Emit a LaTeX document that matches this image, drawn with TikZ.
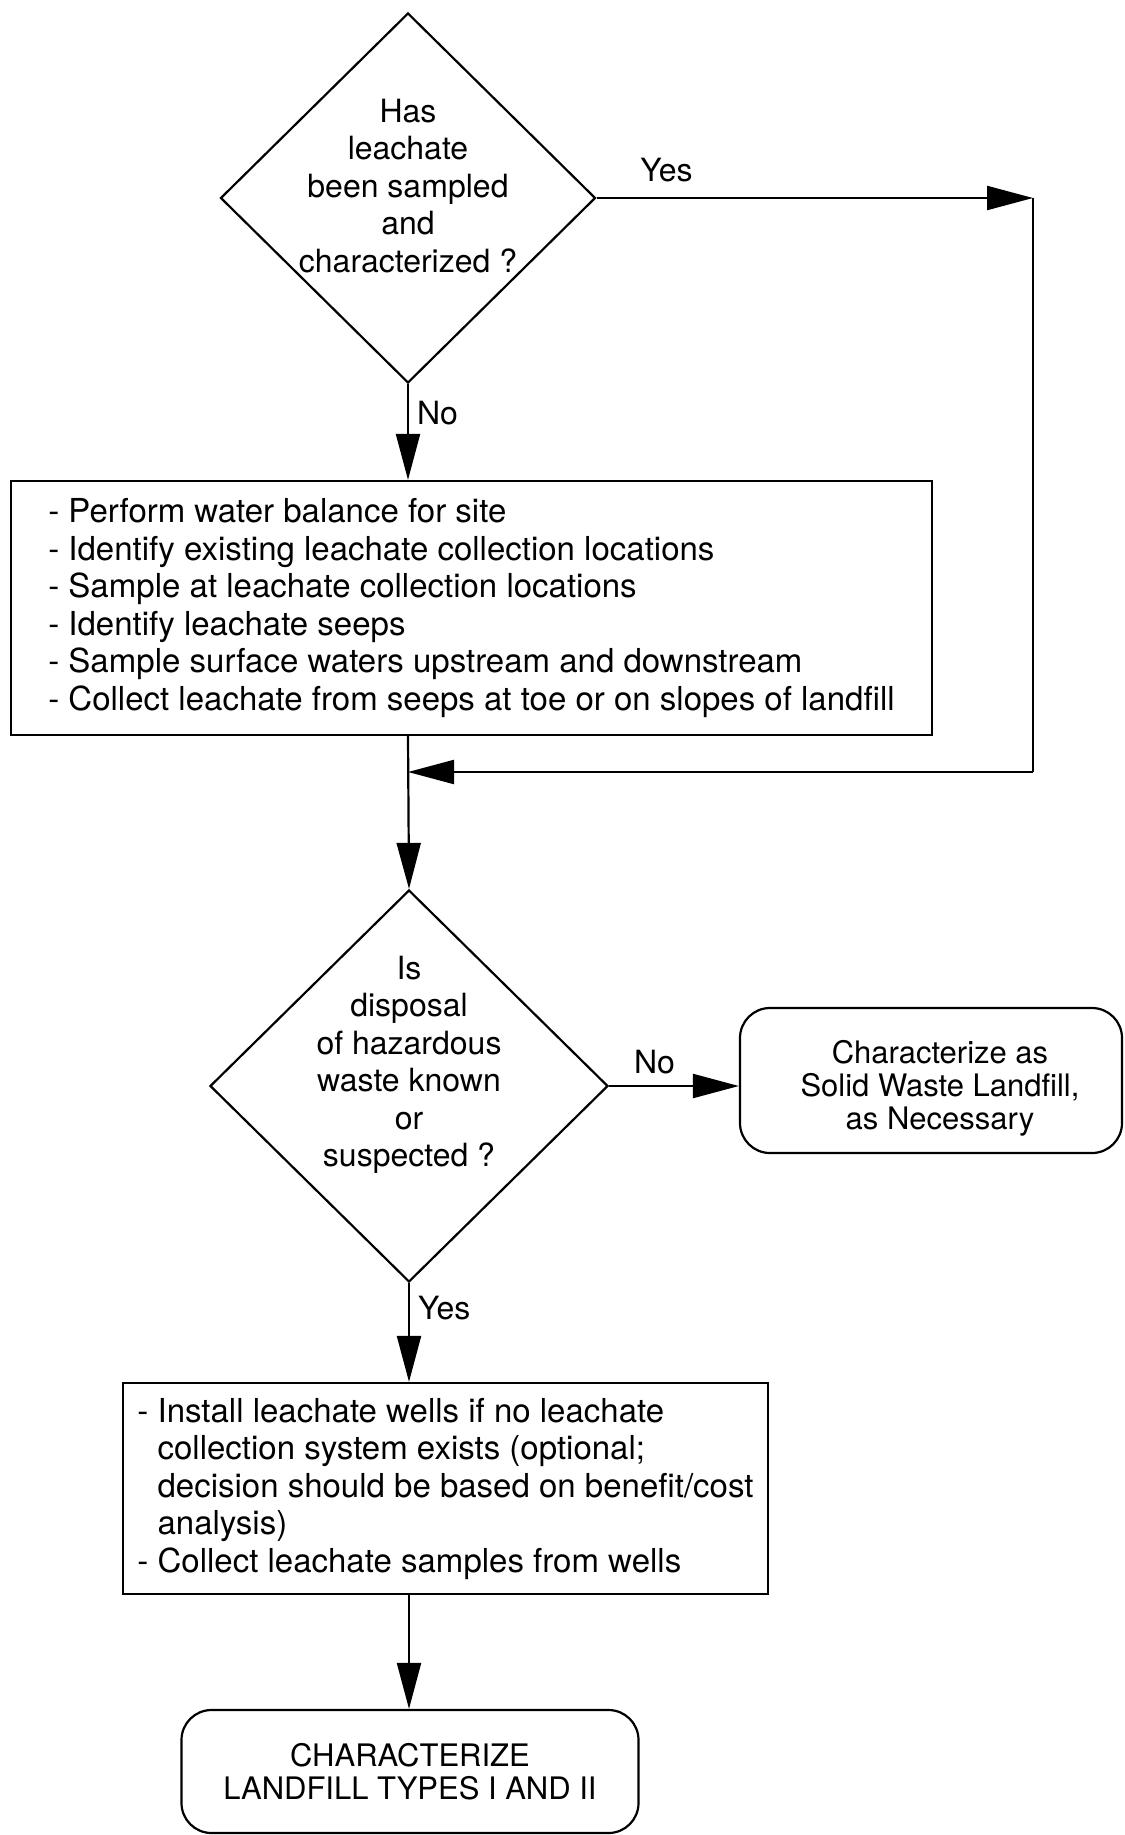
\documentclass[tikz,border=0pt]{standalone}
\usepackage{fontspec}
\setmainfont{TeX Gyre Heros}
\usetikzlibrary{shapes.geometric,arrows.meta}

\tikzset{
    decision/.style={draw, diamond, inner sep=0pt},
    question/.style={align=center, font=\fontsize{32}{37.5}\selectfont},
    process/.style={draw, rectangle, align=left, inner sep=0pt, font=\fontsize{33}{37.5}\selectfont},
    terminal/.style={draw, rectangle, rounded corners=30pt, align=center, inner sep=0pt, font=\fontsize{31}{33}\selectfont},
    answer/.style={inner sep=8pt, font=\fontsize{32}{37.5}\selectfont},
    flow/.style={-{Triangle[length=46pt, width=24pt]}}
}

\begin{document}
\begin{tikzpicture}[x=1pt, y=-1pt, line width=2.2pt]
        \useasboundingbox (0, 0) rectangle (1124, 1835);
        \node[decision, minimum width=375pt, minimum height=370pt] (d1) at (408, 198) {};
        \node[question] (q1) at (408, 186) {Has\\leachate\\been sampled\\and\\characterized ?};
        \node[process, minimum width=921pt, minimum height=254pt] (b1) at (471.5, 608) {- Perform water balance for site\\- Identify existing leachate collection locations\\- Sample at leachate collection locations\\- Identify leachate seeps\\- Sample surface waters upstream and downstream\\- Collect leachate from seeps at toe or on slopes of landfill};
        \node[decision, minimum width=398pt, minimum height=392pt] (d2) at (409, 1086) {};
        \node[question] (q2) at (409, 1065) {Is\\disposal\\of hazardous\\waste known\\or\\suspected ?};
        \node[terminal, minimum width=382pt, minimum height=145pt] (n1) at (931, 1080.5) {};
        \node[terminal, draw=none] (n1text) at (940, 1088) {Characterize as\\Solid Waste Landfill,\\as Necessary};
        \node[process, minimum width=645pt, minimum height=211pt] (b2) at (445.5, 1488.5) {- Install leachate wells if no leachate\\\hphantom{- }collection system exists (optional;\\\hphantom{- }decision should be based on benefit/cost\\\hphantom{- }analysis)\\- Collect leachate samples from wells};
        \node[terminal, minimum width=457pt, minimum height=123pt] (t2) at (410, 1771.5) {CHARACTERIZE\\LANDFILL TYPES I AND II};
        \coordinate (c1) at (1033, 198);
        \coordinate (c2) at (1033, 772);
        \draw[flow] (d1.east) -- node[answer, above, pos=0.16, yshift=7pt] (yes1) {Yes} (c1);
        \draw (c1) -- (c2);
        \draw[flow] (c2) -- (c2 -| d1.south);
        \draw[flow] (d1.south) -- node[answer, right, pos=0.3] (no1) {No} (d1.south |- b1.north);
        \draw[flow] (d1.south |- b1.south) -- (d2.north);
        \draw[flow] (d2.east) -- node[answer, above, pos=0.35, yshift=3pt] (no2) {No} (d2.east -| n1.west);
        \draw[flow] (d2.south) -- node[answer, right, pos=0.25] (yes2) {Yes} (d2.south |- b2.north);
        \draw[flow] (d2.south |- b2.south) -- (d2.south |- t2.north);
    \end{tikzpicture}
\end{document}
